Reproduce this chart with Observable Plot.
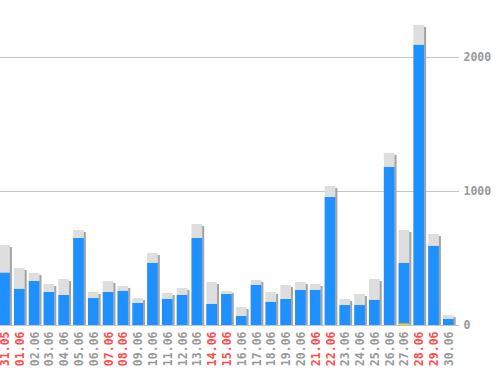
<!DOCTYPE html>
<html>
<head>
<meta charset="utf-8">
<script src="https://cdn.jsdelivr.net/npm/d3@7"></script>
<script src="https://cdn.jsdelivr.net/npm/@observablehq/plot@0.6"></script>
<style>
  html, body { margin: 0; padding: 0; background: #ffffff; }
  svg { display: block; }
</style>
</head>
<body>
<div id="chart"></div>
<script>
const days = ["31.05","01.06","02.06","03.06","04.06","05.06","06.06","07.06","08.06","09.06","10.06","11.06","12.06","13.06","14.06","15.06","16.06","17.06","18.06","19.06","20.06","21.06","22.06","23.06","24.06","25.06","26.06","27.06","28.06","29.06","30.06"];
const redDays = ["31.05","01.06","07.06","08.06","14.06","15.06","21.06","22.06","28.06","29.06"];
const totals = [597,425,388,306,343,709,246,328,291,201,537,239,276,754,321,254,134,336,246,299,321,306,1037,194,231,343,1284,709,2239,679,75];
const blues  = [390,269,328,246,224,649,201,246,254,164,463,194,224,649,157,231,67,299,172,194,261,261,955,149,149,187,1179,463,2090,590,45];
const yellows = [0,0,0,0,0,0,0,0,0,0,0,0,0,0,0,0,0,0,0,0,0,0,0,0,0,0,0,12,0,0,0];
const yTicks = [0, 1000, 2000];

const data = days.map((d, i) => ({day: d, total: totals[i], blue: blues[i], yellow: yellows[i]}));
const font = "'DejaVu Sans Mono', monospace";

const chart = Plot.plot({
  width: 498,
  height: 370,
  marginLeft: 0,
  marginRight: 39,
  marginTop: 0,
  marginBottom: 45,
  style: {background: "#ffffff", fontFamily: font},
  x: {domain: days, range: [-0.8, 453.7], paddingInner: 0.277, paddingOuter: 0, align: 0, round: false, axis: null},
  y: {domain: [0, 2425], axis: null},
  marks: [
    Plot.ruleY(yTicks, {stroke: "#c4c4c4", strokeWidth: 1}),
    Plot.barY(data, {x: "day", y: "total", fill: "#a3a3a3", dx: 2, insetTop: 2}),
    Plot.barY(data, {x: "day", y: "total", fill: "#dedede"}),
    Plot.barY(data, {x: "day", y: "blue", fill: "#1e90ff"}),
    Plot.barY(data.filter(d => d.yellow > 0), {x: "day", y: "yellow", fill: "#ffd000"}),
    Plot.text(yTicks, {y: d => d, frameAnchor: "right", dx: 4, textAnchor: "start", text: d => String(d), fill: "#999999", fontSize: 11.5, fontWeight: "bold", fontFamily: font}),
    Plot.text(days, {x: d => d, frameAnchor: "bottom", dy: 6, dx: 4, rotate: -90, textAnchor: "end", text: d => d, fill: d => redDays.includes(d) ? "#ff4d4d" : "#999999", fontSize: 11.5, fontWeight: "bold", fontFamily: font})
  ]
});
document.getElementById("chart").appendChild(chart);
</script>
</body>
</html>
